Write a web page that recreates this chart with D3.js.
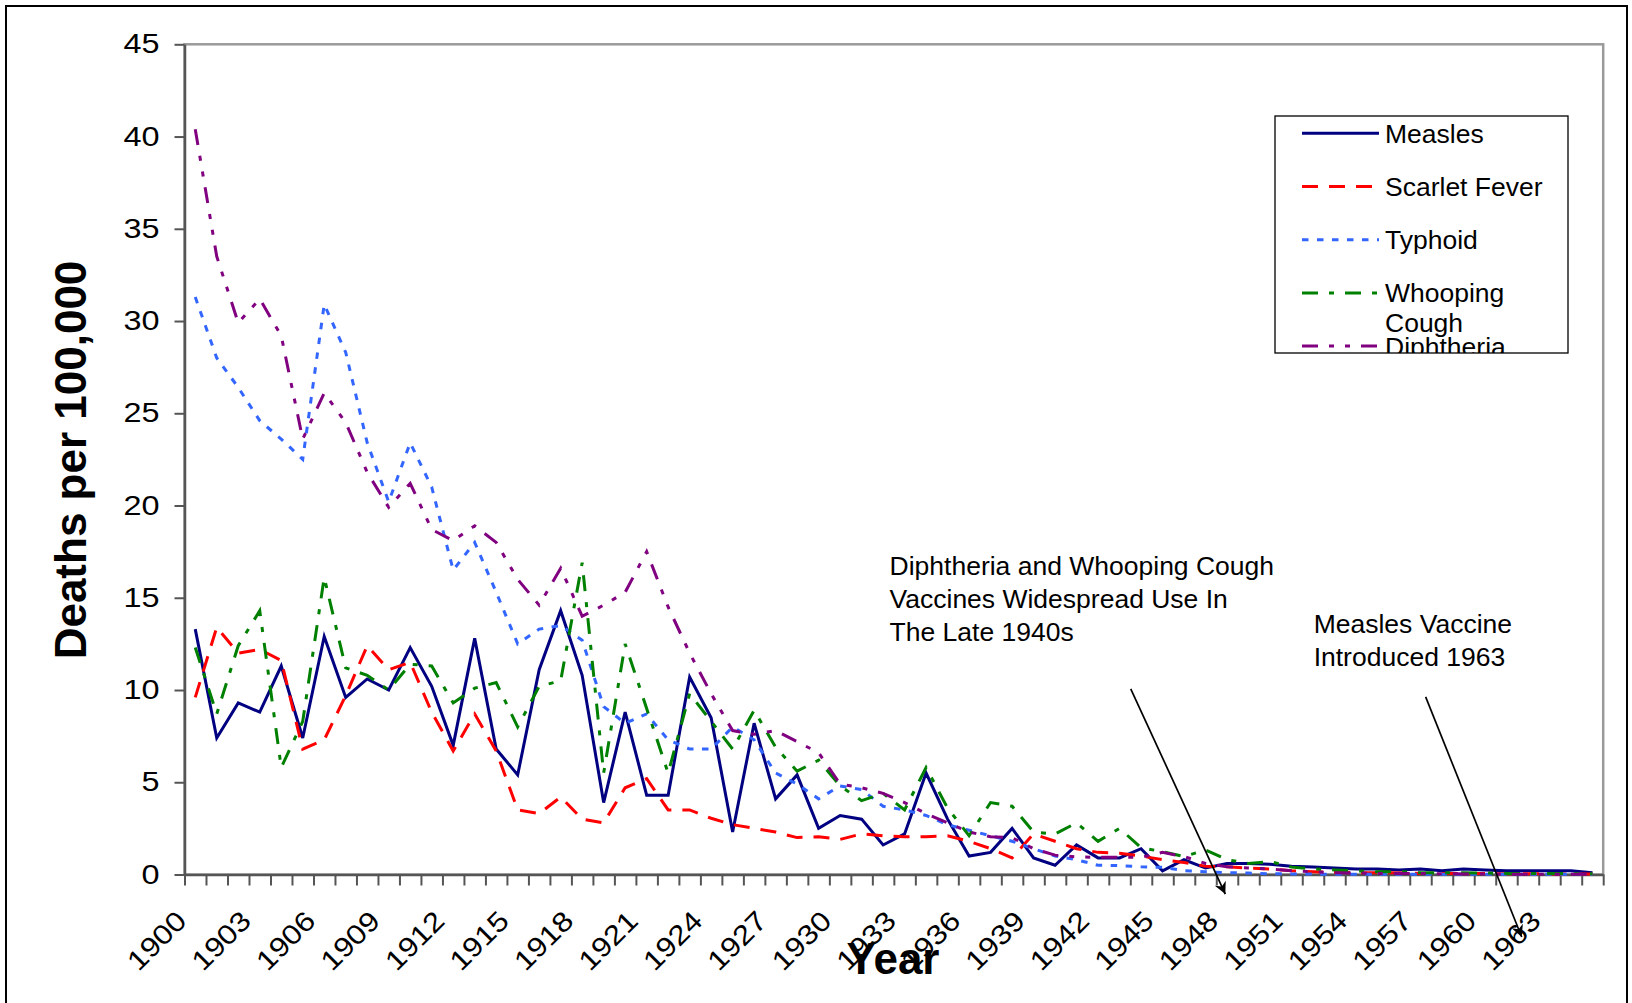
<!DOCTYPE html>
<html>
<head>
<meta charset="utf-8">
<script src="https://cdn.jsdelivr.net/npm/d3@7"></script>
<style>
  body { margin: 0; background: #fff; }
  svg { display: block; font-family: "Liberation Sans", Arial, sans-serif; }
</style>
</head>
<body>
<svg id="chart" width="1632" height="1003"></svg>
<script>
// ===============================
// Dades (morts per 100.000)
// ===============================
const years = d3.range(1900, 1966);
const labelYears = d3.range(1900, 1966, 3);
const yTicks = [0, 5, 10, 15, 20, 25, 30, 35, 40, 45];

const measles = [
  13.3, 7.4, 9.3, 8.8, 11.3, 7.4, 12.9, 9.6, 10.6, 10.0,
  12.3, 10.2, 7.0, 12.8, 6.8, 5.4, 11.1, 14.3, 10.8, 3.9,
  8.8, 4.3, 4.3, 10.7, 8.5, 2.3, 8.2, 4.1, 5.4, 2.5,
  3.2, 3.0, 1.6, 2.2, 5.5, 3.0, 1.0, 1.2, 2.5, 0.9,
  0.5, 1.6, 0.9, 0.9, 1.4, 0.2, 0.8, 0.35, 0.6, 0.6,
  0.55, 0.45, 0.4, 0.35, 0.3, 0.3, 0.25, 0.3, 0.2, 0.3,
  0.25, 0.2, 0.2, 0.2, 0.2, 0.1
];
const scarletFever = [
  9.6, 13.4, 12.0, 12.2, 11.6, 6.8, 7.3, 9.7, 12.4, 11.1,
  11.5, 8.8, 6.7, 8.7, 6.7, 3.5, 3.3, 4.2, 3.0, 2.8,
  4.7, 5.2, 3.5, 3.5, 3.05, 2.7, 2.5, 2.3, 2.0, 2.05,
  1.9, 2.2, 2.1, 2.05, 2.05, 2.1, 1.8, 1.4, 0.9, 2.2,
  1.8, 1.4, 1.2, 1.15, 1.0, 0.8, 0.65, 0.45, 0.42, 0.35,
  0.3, 0.2, 0.15, 0.12, 0.1, 0.1, 0.08, 0.06, 0.05, 0.05,
  0.05, 0.04, 0.04, 0.03, 0.03, 0.03
];
const typhoid = [
  31.3, 28.0, 26.4, 24.6, 23.6, 22.5, 30.9, 28.3, 23.4, 20.2,
  23.4, 21.0, 16.5, 18.0, 15.3, 12.5, 13.3, 13.5, 12.7, 9.1,
  8.2, 8.7, 7.3, 6.8, 6.8, 8.0, 7.3, 5.5, 4.9, 4.1,
  4.8, 4.6, 3.7, 3.5, 3.2, 2.7, 2.4, 2.1, 1.8, 1.4,
  1.0, 0.8, 0.5, 0.48, 0.42, 0.39, 0.21, 0.15, 0.1, 0.08,
  0.04, 0.03, 0.02, 0.02, 0.02, 0.02, 0.01, 0.01, 0.01, 0.01,
  0.01, 0.01, 0.01, 0.01, 0.01, 0.01
];
const whoopingCough = [
  12.3, 8.7, 12.4, 14.3, 5.8, 8.3, 16.1, 11.2, 10.8, 10.0,
  11.4, 11.3, 9.3, 10.1, 10.4, 8.0, 10.2, 10.5, 16.9, 5.5,
  12.5, 9.0, 5.5, 9.8, 8.3, 6.8, 8.9, 6.9, 5.6, 6.2,
  4.8, 4.0, 4.4, 3.5, 5.8, 3.6, 2.1, 3.9, 3.7, 2.3,
  2.2, 2.8, 1.8, 2.5, 1.45, 1.24, 0.97, 1.33, 0.8, 0.6,
  0.7, 0.4, 0.3, 0.25, 0.2, 0.15, 0.15, 0.1, 0.1, 0.1,
  0.08, 0.06, 0.05, 0.05, 0.05, 0.04
];
const diphtheria = [
  40.4, 33.5, 29.9, 31.2, 29.2, 23.6, 26.1, 24.5, 21.8, 19.9,
  21.2, 18.7, 18.1, 18.9, 18.0, 16.0, 14.6, 16.6, 14.0, 14.6,
  15.3, 17.5, 14.5, 12.0, 9.8, 7.8, 7.6, 7.8, 7.2, 6.6,
  4.9, 4.7, 4.4, 3.9, 3.3, 2.8, 2.3, 2.05, 2.0, 1.4,
  1.05, 0.95, 0.93, 0.93, 0.93, 1.2, 0.97, 0.6, 0.42, 0.35,
  0.3, 0.2, 0.15, 0.1, 0.08, 0.06, 0.05, 0.05, 0.04, 0.03,
  0.03, 0.02, 0.02, 0.02, 0.02, 0.02
];

const seriesNames = ["Measles", "Scarlet Fever", "Typhoid", "Whooping Cough", "Diphtheria"];
const seriesValues = [measles, scarletFever, typhoid, whoopingCough, diphtheria];
const seriesColors = ["#000080", "#ff0000", "#3366ff", "#008000", "#800080"];
const seriesDashes = [null, "16,11", "6.5,8.5", "16,11,5,11", "16,11,5,11,5,11"];


// ===============================
// Escales
// ===============================
const svg = d3.select("#chart");
const width = 1632;
const height = 1003;

const plot = { left: 184.5, right: 1603.2, top: 44.3, bottom: 874.5 };

const x = d3.scaleBand()
  .domain(years)
  .range([plot.left, plot.right])
  .padding(0);

const bw = x.bandwidth();

// posició contínua (per anotacions)
const xc = d3.scaleLinear()
  .domain([1900, 1965])
  .range([x(1900) + bw / 2, x(1965) + bw / 2]);

const y = d3.scaleLinear()
  .domain([0, 45])
  .range([plot.bottom, plot.top]);

// les etiquetes dels eixos surten una mica eixamplades
function stretchText(sel, k) {
  sel.each(function () {
    const w = this.getComputedTextLength();
    d3.select(this)
      .attr("textLength", w * k)
      .attr("lengthAdjust", "spacingAndGlyphs");
  });
}


// ===============================
// Marcs
// ===============================
svg.append("rect")
  .attr("width", width)
  .attr("height", height)
  .attr("fill", "white");

svg.append("rect")
  .attr("x", 6)
  .attr("y", 6)
  .attr("width", 1621)
  .attr("height", 1020)
  .attr("fill", "none")
  .attr("stroke", "#000")
  .attr("stroke-width", 2);

svg.append("rect")
  .attr("x", plot.left)
  .attr("y", plot.top)
  .attr("width", plot.right - plot.left)
  .attr("height", plot.bottom - plot.top)
  .attr("fill", "none")
  .attr("stroke", "#9a9a9a")
  .attr("stroke-width", 2.5);


// ===============================
// Eixos
// ===============================
const yAxis = svg.append("g")
  .attr("transform", `translate(${plot.left},0)`)
  .call(d3.axisLeft(y).tickValues(yTicks).tickSize(10).tickPadding(15).tickSizeOuter(0));

yAxis.select(".domain").attr("stroke", "#555").attr("stroke-width", 2.5);
yAxis.selectAll(".tick line").attr("stroke", "#555").attr("stroke-width", 2);
yAxis.selectAll(".tick text")
  .style("font-size", "27px")
  .attr("fill", "#000")
  .call(stretchText, 1.2);

// marques entre categories
const boundary = d3.scaleLinear()
  .domain([0, years.length])
  .range([plot.left, plot.right]);

const xTickAxis = svg.append("g")
  .attr("transform", `translate(0,${plot.bottom})`)
  .call(d3.axisBottom(boundary)
    .tickValues(d3.range(0, years.length + 1))
    .tickSize(11)
    .tickSizeOuter(0)
    .tickFormat(""));

xTickAxis.select(".domain").attr("stroke", "#555").attr("stroke-width", 2.5);
xTickAxis.selectAll(".tick line").attr("stroke", "#555").attr("stroke-width", 2);

// etiquetes d'anys
const xAxis = svg.append("g")
  .attr("transform", `translate(0,${plot.bottom})`)
  .call(d3.axisBottom(x).tickValues(labelYears).tickSize(0));

xAxis.select(".domain").remove();
xAxis.selectAll(".tick text")
  .attr("x", 0)
  .attr("y", 0)
  .attr("dy", 0)
  .attr("transform", "translate(-7,48) rotate(-45)")
  .style("text-anchor", "end")
  .style("font-size", "27.5px")
  .attr("fill", "#000")
  .call(stretchText, 1.15);


// ===============================
// Sèries
// ===============================
const line = d3.line()
  .x(d => x(d.year) + bw / 2)
  .y(d => y(d.value));

seriesNames.forEach((name, i) => {
  const pts = years.map((yr, j) => ({ year: yr, value: seriesValues[i][j] }));
  svg.append("path")
    .datum(pts)
    .attr("d", line)
    .attr("fill", "none")
    .attr("stroke", seriesColors[i])
    .attr("stroke-width", 3)
    .attr("stroke-linejoin", "miter")
    .attr("stroke-dasharray", seriesDashes[i]);
});


// ===============================
// Títols d'eixos
// ===============================
svg.append("text")
  .attr("transform", "translate(86,460) rotate(-90)")
  .attr("text-anchor", "middle")
  .style("font-size", "44px")
  .style("font-weight", "bold")
  .text("Deaths per 100,000");

svg.append("text")
  .attr("x", 893)
  .attr("y", 974)
  .attr("text-anchor", "middle")
  .style("font-size", "44px")
  .style("font-weight", "bold")
  .text("Year");


// ===============================
// Anotacions
// ===============================
const defs = svg.append("defs");

defs.append("marker")
  .attr("id", "arrow")
  .attr("viewBox", "0 0 10 10")
  .attr("refX", 10)
  .attr("refY", 5)
  .attr("markerWidth", 16)
  .attr("markerHeight", 12)
  .attr("markerUnits", "userSpaceOnUse")
  .attr("orient", "auto")
  .append("path")
  .attr("d", "M0,0 L10,5 L0,10 L3,5 z")
  .attr("fill", "#000");

function annotationText(lines, year, value) {
  const t = svg.append("text")
    .attr("x", xc(year))
    .attr("y", y(value))
    .style("font-size", "26.5px")
    .attr("fill", "#000");
  lines.forEach((l, i) => {
    t.append("tspan")
      .attr("x", xc(year))
      .attr("dy", i === 0 ? 0 : 33)
      .text(l);
  });
}

function annotationArrow(y0, v0, y1, v1) {
  svg.append("line")
    .attr("x1", xc(y0))
    .attr("y1", y(v0))
    .attr("x2", xc(y1))
    .attr("y2", y(v1))
    .attr("stroke", "#000")
    .attr("stroke-width", 1.7)
    .attr("marker-end", "url(#arrow)");
}

annotationText(
  ["Diphtheria and Whooping Cough", "Vaccines Widespread Use In", "The Late 1940s"],
  1932.3, 16.25
);
annotationText(["Measles Vaccine", "Introduced 1963"], 1952.03, 13.1);

annotationArrow(1943.52, 10.06, 1947.92, -1.06);
annotationArrow(1957.24, 9.63, 1961.71, -3.39);


// ===============================
// Llegenda
// ===============================
const legend = { x: 1275, y: 116, w: 293, h: 237 };
const rowStart = 133.3;
const rowHeight = 53.2;

defs.append("clipPath")
  .attr("id", "legend-clip")
  .append("rect")
  .attr("x", legend.x)
  .attr("y", legend.y)
  .attr("width", legend.w)
  .attr("height", legend.h);

const legendGroup = svg.append("g");

legendGroup.append("rect")
  .attr("x", legend.x)
  .attr("y", legend.y)
  .attr("width", legend.w)
  .attr("height", legend.h)
  .attr("fill", "white")
  .attr("stroke", "#000")
  .attr("stroke-width", 1.3);

const legendItems = legendGroup.append("g")
  .attr("clip-path", "url(#legend-clip)");

seriesNames.forEach((name, i) => {
  const cy = rowStart + i * rowHeight;

  legendItems.append("line")
    .attr("x1", 1302)
    .attr("x2", 1379)
    .attr("y1", cy)
    .attr("y2", cy)
    .attr("stroke", seriesColors[i])
    .attr("stroke-width", 3)
    .attr("stroke-dasharray", seriesDashes[i]);

  // ajust de línia simple (com fa Excel)
  const t = legendItems.append("text")
    .attr("x", 1385)
    .attr("y", cy + 9.4)
    .style("font-size", "26.5px")
    .attr("fill", "#000");

  const maxW = legend.x + legend.w - 1385 - 4;
  const words = name.split(" ");
  let current = t.append("tspan").attr("x", 1385).text(words[0]);
  let lineText = words[0];
  words.slice(1).forEach(w => {
    current.text(lineText + " " + w);
    if (current.node().getComputedTextLength() > maxW) {
      current.text(lineText);
      lineText = w;
      current = t.append("tspan").attr("x", 1385).attr("dy", 30).text(w);
    } else {
      lineText = lineText + " " + w;
    }
  });
});
</script>
</body>
</html>
